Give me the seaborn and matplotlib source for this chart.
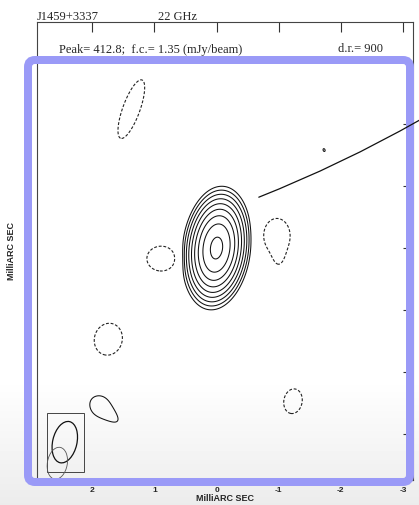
import numpy as np
import matplotlib
matplotlib.use("Agg")
import matplotlib.pyplot as plt
from matplotlib.patches import Ellipse, Rectangle, FancyBboxPatch
import seaborn as sns

sns.set_theme(style="white")
plt.rcParams['font.family'] = ['Liberation Sans', 'DejaVu Sans']

# ---- map header ----
source_name = "J1459+3337"
band = "22 GHz"
peak_flux = 412.8        # mJy/beam
first_contour = 1.35     # mJy/beam
dynamic_range = 900

# ---- Gaussian model of the CLEAN image (mas, mJy/beam, deg east of north) ----
comp_x    = [0.00, 1.37, 0.89, -0.97, -1.00, 1.74, -1.23, 1.88, 1.70, -1.73]
comp_y    = [0.00, 2.24, -0.17, 0.20, -0.10, -1.47, -2.47, -2.54, -2.70, 1.58]
comp_amp  = [412.8, -2.7, -2.7, -2.7, -1.5, -2.7, -2.7, 1.75, 1.45, 1.55]
comp_smaj = [0.296, 0.425, 0.195, 0.235, 0.17, 0.22, 0.17, 0.19, 0.20, 0.045]
comp_smin = [0.163, 0.117, 0.170, 0.180, 0.075, 0.19, 0.125, 0.18, 0.085, 0.03]
comp_pa   = [-7.0, -20.0, 90.0, 0.0, 0.0, -15.0, -10.0, 0.0, 50.0, 20.0]

# contour multipliers of the first contour
contour_steps = [-1, 1, 2, 4, 8, 16, 32, 64, 128, 256]

# restoring beam (centre x, y; FWHM minor, major; PA) and beam box corners
beam = dict(x=2.44, y=-3.13, minor=0.39, major=0.68, pa=-13.0)
beam_ghost = dict(x=2.56, y=-3.47, minor=0.32, major=0.52, pa=-10.0)
beam_box_x = [2.13, 2.73]
beam_box_y = [-3.61, -2.66]

# axis ranges and ticks (mas)
x_range = [2.887, -3.16]
y_range = [-3.74, 3.645]
ticks = [3, 2, 1, 0, -1, -2, -3]

# pointer line endpoints (mas)
pointer_start = (-0.68, 0.82)
pointer_end = (-3.26, 2.06)

W, H = 419, 505
fig = plt.figure(figsize=(W / 100, H / 100), dpi=100, facecolor="white")

# faint grey shading toward the bottom of the page
bg = fig.add_axes([0, 0, 1, 1], zorder=-5)
rows = np.linspace(0, 1, 505)
shade = np.clip((rows - 0.75) / 0.25, 0, 1)
grey = 1 - 0.075 * shade
bg.imshow(np.repeat(grey[:, None], 4, axis=1), cmap="gray", vmin=0, vmax=1,
          aspect="auto", extent=[0, 1, 1, 0])
bg.set_xlim(0, 1); bg.set_ylim(1, 0)
bg.axis("off")

ax = fig.add_axes([37 / W, 1 - 480 / H, (413 - 37) / W, (480 - 22) / H])
ax.set_facecolor("none")

# model image
gx = np.linspace(3.0, -3.3, 1100)
gy = np.linspace(-3.9, 3.8, 1300)
X, Y = np.meshgrid(gx, gy)
img = np.zeros_like(X)
for x0, y0, a, smj, smn, pa in zip(comp_x, comp_y, comp_amp, comp_smaj, comp_smin, comp_pa):
    t = np.deg2rad(pa)
    dx, dy = X - x0, Y - y0
    u = dx * np.sin(t) + dy * np.cos(t)
    v = dx * np.cos(t) - dy * np.sin(t)
    img += a * np.exp(-0.5 * ((u / smj) ** 2 + (v / smn) ** 2))

levels = [first_contour * s for s in contour_steps]
neg = [l for l in levels if l < 0]
pos = [l for l in levels if l > 0]
ax.contour(X, Y, img, levels=pos, colors="#111111", linewidths=0.75)
ax.contour(X, Y, img, levels=neg, colors="#222222", linewidths=0.8,
           linestyles=[(0, (2.6, 1.6))])

# beam
def beam_patch(b, **kw):
    return Ellipse((b["x"], b["y"]), width=b["minor"], height=b["major"],
                   angle=-b["pa"], fill=False, **kw)

ax.add_patch(Rectangle((beam_box_x[0], beam_box_y[0]),
                       beam_box_x[1] - beam_box_x[0], beam_box_y[1] - beam_box_y[0],
                       fill=False, ec="#444444", lw=0.7))
ax.add_patch(beam_patch(beam, ec="#111111", lw=0.9))
ax.add_patch(beam_patch(beam_ghost, ec="#555555", lw=0.6))

ax.set_xlim(*x_range)
ax.set_ylim(*y_range)
ax.set_xticks([t for t in ticks if x_range[1] <= t <= x_range[0]])
ax.set_yticks([t for t in ticks if y_range[0] <= t <= y_range[1]])
ax.set_xticklabels([str(t) for t in ax.get_xticks().astype(int)])
ax.set_yticklabels([str(t) for t in ax.get_yticks().astype(int)])
ax.tick_params(direction="in", length=7, width=0.8, color="#333333",
               top=True, right=True, labelsize=6)
ax.tick_params(axis="x", pad=5)
ax.tick_params(axis="y", pad=4)
for lab in ax.get_xticklabels() + ax.get_yticklabels():
    lab.set_fontweight("bold")
for sp in ax.spines.values():
    sp.set_color("#444444"); sp.set_linewidth(0.8)
ax.set_xlabel("MilliARC SEC", fontsize=6.5, fontweight="bold", labelpad=0)
ax.set_ylabel("MilliARC SEC", fontsize=6.5, fontweight="bold", labelpad=6)

# header text
serif = ['Liberation Serif', 'DejaVu Serif']
fig.text(37 / W, 1 - 19.5 / H, source_name, family=serif, fontsize=9, va="baseline")
fig.text(158 / W, 1 - 19.5 / H, band, family=serif, fontsize=9, va="baseline")
fig.text(59 / W, 1 - 52.5 / H,
         f"Peak= {peak_flux:.1f};  f.c.= {first_contour:.2f} (mJy/beam)",
         family=serif, fontsize=9, va="baseline")
fig.text(338 / W, 1 - 52.5 / H, f"d.r.= {dynamic_range}",
         family=serif, fontsize=9, va="baseline")

# highlight frame
frame = FancyBboxPatch((28, H - 482), 382, 422,
                       boxstyle="round,pad=0,rounding_size=7",
                       fc="none", ec="#9a9af7", lw=8 * 72 / 100,
                       transform=None, zorder=3)
fig.add_artist(frame)

# pointer drawn above the frame
top = fig.add_axes(ax.get_position(), zorder=6)
top.set_xlim(*x_range); top.set_ylim(*y_range)
top.axis("off")
top.annotate("", xy=pointer_end, xytext=pointer_start,
             arrowprops=dict(arrowstyle="-", connectionstyle="arc3,rad=0.035",
                             lw=0.9, color="#111111", shrinkA=0, shrinkB=0),
             annotation_clip=False)

fig.savefig("out.png", dpi=100, facecolor="white")
